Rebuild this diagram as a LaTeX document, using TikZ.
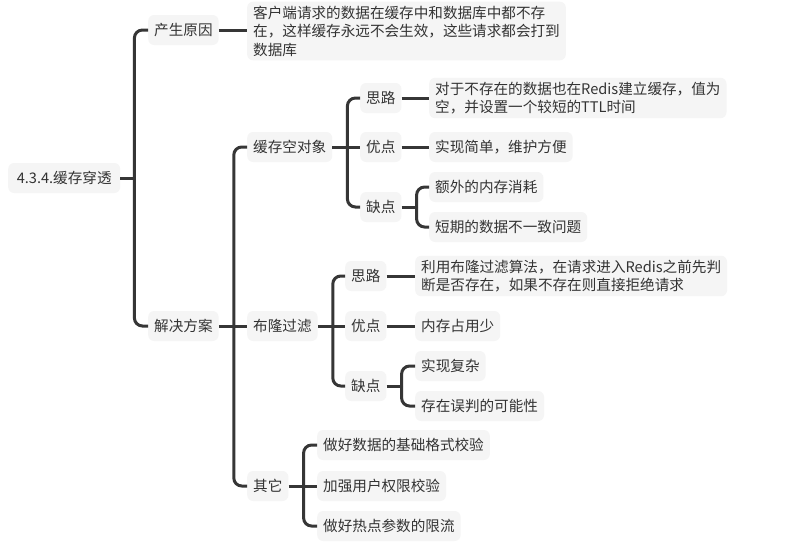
\documentclass[tikz,border=0pt]{standalone}
\usepackage{fontspec}
\setmainfont{Noto Sans CJK SC}
\definecolor{boxfill}{HTML}{F5F5F5}
\definecolor{lnc}{HTML}{363636}
\definecolor{txt}{HTML}{333333}
\begin{document}
\begin{tikzpicture}[x=1pt,y=-1pt,
  box/.style={fill=boxfill, rounded corners=6pt, inner xsep=6pt, inner ysep=4pt,
    minimum height=30pt, anchor=west, font=\fontsize{14.6}{18.5}\selectfont,
    text=txt, align=left},
  ln/.style={draw=lnc, line width=3pt},
  br/.style={draw=lnc, line width=3pt, rounded corners=8pt}]
\useasboundingbox[fill=white] (0,0) rectangle (797,547);
% nodes
\node[box, minimum width=112pt] (root) at (8,178) {4.3.4.缓存穿透};
\node[box] (yy) at (148,30) {产生原因};
\node[box] (yyd) at (247,31) {客户端请求的数据在缓存中和数据库中都不存\\在，这样缓存永远不会生效，这些请求都会打到\\数据库};
\node[box] (jj) at (148,326) {解决方案};
\node[box] (a) at (247,147) {缓存空对象};
\node[box] (a1) at (360,98) {思路};
\node[box] (a1d) at (429,98) {对于不存在的数据也在Redis建立缓存，值为\\空，并设置一个较短的TTL时间};
\node[box] (a2) at (360,147) {优点};
\node[box] (a2d) at (429,147) {实现简单，维护方便};
\node[box] (a3) at (360,207) {缺点};
\node[box] (a31) at (429,187) {额外的内存消耗};
\node[box] (a32) at (429,227) {短期的数据不一致问题};
\node[box] (b) at (247,326) {布隆过滤};
\node[box] (b1) at (345,276) {思路};
\node[box] (b1d) at (415,276) {利用布隆过滤算法，在请求进入Redis之前先判\\断是否存在，如果不存在则直接拒绝请求};
\node[box] (b2) at (345,326) {优点};
\node[box] (b2d) at (415,326) {内存占用少};
\node[box] (b3) at (345,386) {缺点};
\node[box] (b31) at (415,366) {实现复杂};
\node[box] (b32) at (415,406) {存在误判的可能性};
\node[box] (c) at (247,486) {其它};
\node[box] (c1) at (317,445) {做好数据的基础格式校验};
\node[box] (c2) at (317,486) {加强用户权限校验};
\node[box] (c3) at (317,526) {做好热点参数的限流};
% connectors
\draw[ln] (root.east) -- ++(14,0) coordinate (j0);
\draw[br] (j0) |- (yy.west);
\draw[br] (j0) |- (jj.west);
\draw[ln] (yy.east) -- (yy.east -| yyd.west);
\draw[ln] (jj.east) -- ++(15,0) coordinate (j1);
\draw[br] (j1) |- (a.west);
\draw[ln] (j1) -- (b.west);
\draw[br] (j1) |- (c.west);
\draw[ln] (a.east) -- ++(15,0) coordinate (ja);
\draw[br] (ja) |- (a1.west);
\draw[ln] (ja) -- (a2.west);
\draw[br] (ja) |- (a3.west);
\draw[ln] (a1.east) -- (a1d.west);
\draw[ln] (a2.east) -- (a2d.west);
\draw[ln] (a3.east) -- ++(15,0) coordinate (ja3);
\draw[br] (ja3) |- (a31.west);
\draw[br] (ja3) |- (a32.west);
\draw[ln] (b.east) -- ++(15,0) coordinate (jb);
\draw[br] (jb) |- (b1.west);
\draw[ln] (jb) -- (b2.west);
\draw[br] (jb) |- (b3.west);
\draw[ln] (b1.east) -- (b1d.west);
\draw[ln] (b2.east) -- (b2d.west);
\draw[ln] (b3.east) -- ++(15,0) coordinate (jb3);
\draw[br] (jb3) |- (b31.west);
\draw[br] (jb3) |- (b32.west);
\draw[ln] (c.east) -- ++(15,0) coordinate (jc);
\draw[br] (jc) |- (c1.west);
\draw[ln] (jc) -- (c2.west);
\draw[br] (jc) |- (c3.west);
\end{tikzpicture}
\end{document}
